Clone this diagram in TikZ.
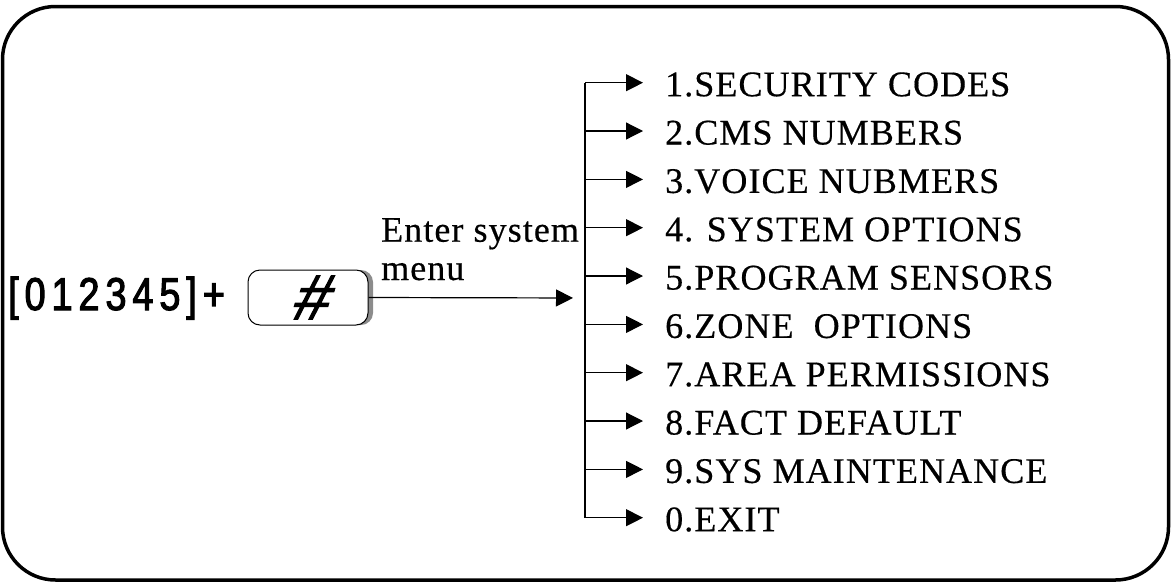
\documentclass[tikz,border=0pt]{standalone}
\usepackage{fontspec}
\setmainfont{Liberation Serif}
\newfontfamily\menufont[LetterSpace=3,FakeBold=0.4]{Liberation Serif}
\newfontfamily\keyfont[LetterSpace=13,FakeStretch=0.82,FakeBold=2.4]{Liberation Sans}
\newfontfamily\hashfont[FakeSlant=0.3,FakeBold=1.8]{Liberation Sans}
\usetikzlibrary{arrows.meta,shadows}

\begin{document}
\begin{tikzpicture}[x=1pt,y=-1pt]

      \useasboundingbox (0,0) rectangle (1172,584);
      \draw[line width=3.5pt,rounded corners=53pt] (2.5,6.5) rectangle (1168.5,580);

      \node[anchor=base west,inner sep=0pt,font=\keyfont\fontsize{46}{46}\selectfont] (code) at (8,310) {[012345]+};
      \node[draw,fill=white,line width=1pt,rounded corners=12pt,minimum width=120pt,minimum height=55pt,
            drop shadow={shadow xshift=5pt,shadow yshift=0pt,fill=black!45,opacity=1},
            font=\hashfont\fontsize{64}{64}\selectfont] (key) at (308,297.5) {\#};

      \begin{scope}[every node/.style={anchor=base west,inner sep=0pt,font=\menufont\fontsize{36}{40}\selectfont}]
        \node (enter) at (381,241.7) {Enter system};
        \node (menu)  at (381,280)   {menu};
      \end{scope}

      \coordinate (hub) at (585,298);
      \coordinate (top) at (585,82.7);
      \coordinate (bot) at (585,517.7);
      \coordinate (b1) at (585,82.7);
      \coordinate (b2) at (585,131.0);
      \coordinate (b3) at (585,179.4);
      \coordinate (b4) at (585,227.7);
      \coordinate (b5) at (585,276.0);
      \coordinate (b6) at (585,324.4);
      \coordinate (b7) at (585,372.7);
      \coordinate (b8) at (585,421.0);
      \coordinate (b9) at (585,469.4);
      \coordinate (b0) at (585,517.7);

      \begin{scope}[every node/.style={anchor=base west,inner sep=0pt,font=\menufont\fontsize{36}{40}\selectfont}]
        \node (i1) at (665,96.2)  {1.SECURITY CODES};
        \node (i2) at (665,144.5) {2.CMS NUMBERS};
        \node (i3) at (665,192.9) {3.VOICE NUBMERS};
        \node (i4) at (665,241.2) {4. SYSTEM OPTIONS};
        \node (i5) at (665,289.5) {5.PROGRAM SENSORS};
        \node (i6) at (665,337.9) {6.ZONE\ \ OPTIONS};
        \node (i7) at (665,386.2) {7.AREA PERMISSIONS};
        \node (i8) at (665,434.5) {8.FACT DEFAULT};
        \node (i9) at (665,482.9) {9.SYS MAINTENANCE};
        \node (i0) at (665,531.2) {0.EXIT};
      \end{scope}

      \begin{scope}[line width=1.2pt]
        \draw (top) -- (bot);
        \begin{scope}[every edge/.style={draw,-{Triangle[length=17pt,width=17pt]}}]
          \path (key.east) edge[shorten >=12pt] (hub);
          \path (b1) edge[shorten >=22pt] (i1.west |- b1);
          \path (b2) edge[shorten >=22pt] (i2.west |- b2);
          \path (b3) edge[shorten >=22pt] (i3.west |- b3);
          \path (b4) edge[shorten >=22pt] (i4.west |- b4);
          \path (b5) edge[shorten >=22pt] (i5.west |- b5);
          \path (b6) edge[shorten >=22pt] (i6.west |- b6);
          \path (b7) edge[shorten >=22pt] (i7.west |- b7);
          \path (b8) edge[shorten >=22pt] (i8.west |- b8);
          \path (b9) edge[shorten >=22pt] (i9.west |- b9);
          \path (b0) edge[shorten >=22pt] (i0.west |- b0);
        \end{scope}
      \end{scope}

    \end{tikzpicture}
\end{document}
